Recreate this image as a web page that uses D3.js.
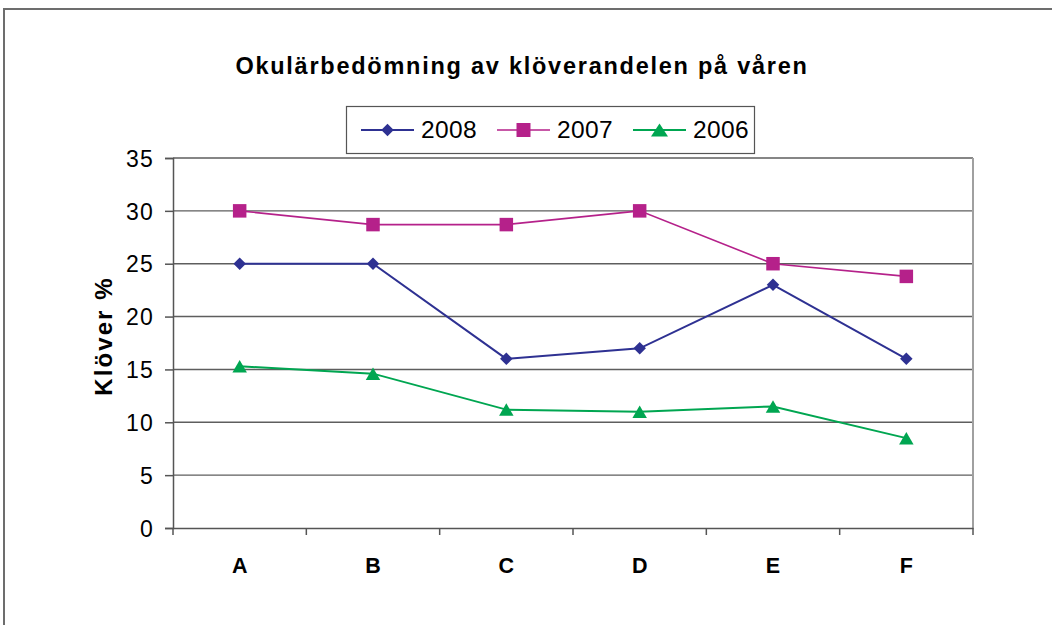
<!DOCTYPE html>
<html><head><meta charset="utf-8">
<script src="https://cdn.jsdelivr.net/npm/d3@7"></script>
<style>body{margin:0;background:#fff}svg{display:block}text{font-family:"Liberation Sans",Arial,sans-serif}</style>
</head><body>
<script>
const categories = ["A","B","C","D","E","F"];
const s2008 = [25, 25, 16, 17, 23, 16];
const s2007 = [30, 28.7, 28.7, 30, 25, 23.8];
const s2006 = [15.3, 14.6, 11.2, 11.0, 11.5, 8.5];
const seriesNames = ["2008","2007","2006"];
const yTicks = [0,5,10,15,20,25,30,35];

// custom marker shapes; size = width in px
const diamond = w => { const r = w/2; return `M0,${-r}L${r},0L0,${r}L${-r},0Z`; };
const square = w => { const r = w/2; return `M${-r},${-r}H${r}V${r}H${-r}Z`; };
const triangle = (w, h) => `M0,${-h/2}L${w/2},${h/2}L${-w/2},${h/2}Z`;

const series = [
  {name: seriesNames[0], values: s2008, color: "#2E3192", width: 2, mark: diamond(12.5), legMark: diamond(12.5)},
  {name: seriesNames[1], values: s2007, color: "#B5218A", width: 1.6, mark: square(13.5), legMark: square(14)},
  {name: seriesNames[2], values: s2006, color: "#00A651", width: 2, mark: triangle(14.5, 12.5), legMark: triangle(17, 13)}
];

const W = 1052, H = 625;
const svg = d3.select("body").append("svg").attr("width", W).attr("height", H);
svg.append("rect").attr("x",4).attr("y",9).attr("width",1200).attr("height",800)
  .attr("fill","none").attr("stroke","#6d6d6d").attr("stroke-width",2);

const L = 173, R = 973, T = 158, B = 528;
const x = d3.scaleBand().domain(categories).range([L, R]);
const y = d3.scaleLinear().domain([0, 35]).range([B, T]);

// gridlines
svg.append("g").selectAll("line").data(yTicks.filter(d => d > 0)).join("line")
  .attr("x1", L).attr("x2", R).attr("y1", d => y(d)).attr("y2", d => y(d))
  .attr("stroke", "#5e5e5e").attr("stroke-width", 1.4);
// right border of plot
svg.append("line").attr("x1", R).attr("x2", R).attr("y1", T).attr("y2", B)
  .attr("stroke", "#a0a0a0").attr("stroke-width", 2);

// y axis
const yAx = svg.append("g").attr("transform", `translate(${L},0)`)
  .call(d3.axisLeft(y).tickValues(yTicks).tickSize(8).tickPadding(11));
yAx.select(".domain").attr("stroke", "#555").attr("stroke-width", 1.5);
yAx.selectAll(".tick line").attr("stroke", "#555").attr("stroke-width", 1.5);
yAx.selectAll(".tick text").attr("font-size", 23).attr("fill", "#000")
  .attr("letter-spacing", "1.2px").attr("dy", "0.36em")
  .attr("font-family", "Liberation Sans, Arial, sans-serif");

// x axis
const xAx = svg.append("g").attr("transform", `translate(0,${B})`)
  .call(d3.axisBottom(x).tickSize(0).tickPadding(0));
xAx.select(".domain").attr("stroke", "#555").attr("stroke-width", 1.5);
xAx.selectAll(".tick text").attr("font-size", 21.5).attr("font-weight", "bold").attr("fill", "#000")
  .attr("y", 45).attr("dy", 0)
  .attr("font-family", "Liberation Sans, Arial, sans-serif");
// boundary ticks
const bounds = categories.map(c => x(c)).concat([x(categories[categories.length-1]) + x.bandwidth()]);
svg.append("g").selectAll("line").data(bounds).join("line")
  .attr("x1", d => d).attr("x2", d => d).attr("y1", B).attr("y2", B + 7)
  .attr("stroke", "#555").attr("stroke-width", 1.5);

// lines and markers
const cx = c => x(c) + x.bandwidth() / 2;
series.forEach(s => {
  const line = d3.line().x((d, i) => cx(categories[i])).y(d => y(d));
  svg.append("path").datum(s.values).attr("d", line)
    .attr("fill", "none").attr("stroke", s.color).attr("stroke-width", s.width);
  svg.append("g").selectAll("path").data(s.values).join("path")
    .attr("transform", (d, i) => `translate(${cx(categories[i])},${y(d)})`)
    .attr("d", s.mark).attr("fill", s.color);
});

// title
svg.append("text").attr("x", 522).attr("y", 74).attr("text-anchor", "middle")
  .attr("font-size", 23.5).attr("font-weight", "bold").attr("letter-spacing", "1.75px")
  .text("Okulärbedömning av klöverandelen på våren");

// y label
svg.append("text").attr("transform", "translate(112,336) rotate(-90)").attr("text-anchor", "middle")
  .attr("font-size", 24).attr("font-weight", "bold").attr("letter-spacing", "2.1px").text("Klöver %");

// legend
svg.append("rect").attr("x", 346.5).attr("y", 106.5).attr("width", 408).attr("height", 47)
  .attr("fill", "#fff").attr("stroke", "#555").attr("stroke-width", 1.2);
const lx = [361, 497, 633];
series.forEach((s, i) => {
  const g = svg.append("g").attr("transform", `translate(${lx[i]},130)`);
  g.append("line").attr("x1", 0).attr("x2", 53).attr("stroke", s.color).attr("stroke-width", s.width);
  g.append("path").attr("transform", "translate(26.5,0)").attr("d", s.legMark).attr("fill", s.color);
  g.append("text").attr("x", 60).attr("y", 8).attr("font-size", 24.5).attr("letter-spacing", "0.4px").text(s.name);
});
</script>
</body></html>
